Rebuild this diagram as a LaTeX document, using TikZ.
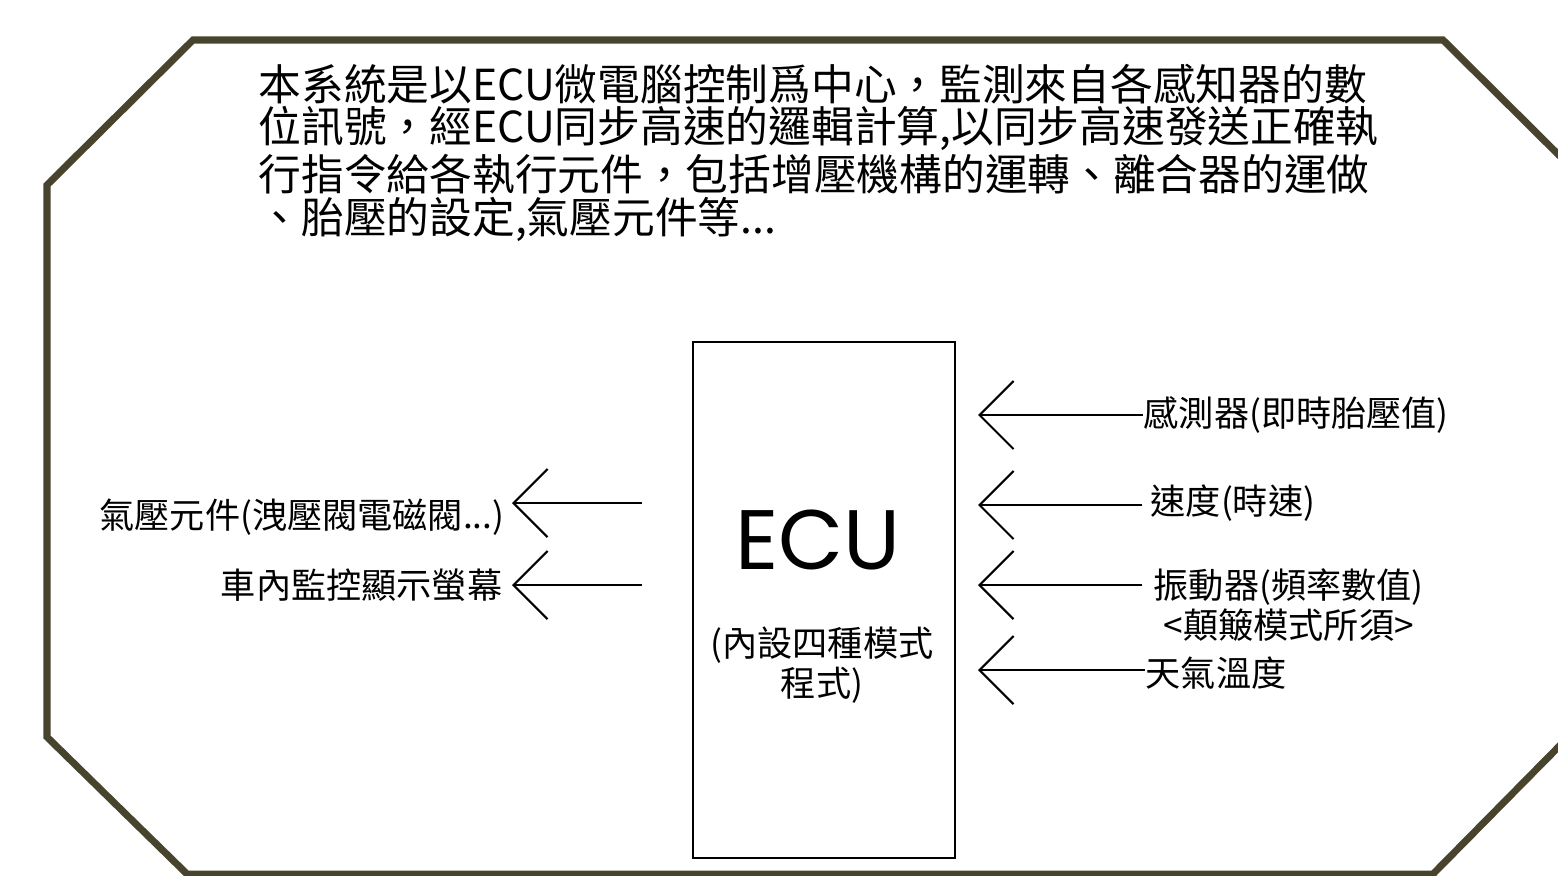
\documentclass[tikz,border=0pt]{standalone}
\usepackage{fontspec}
\setmainfont{Noto Sans CJK TC}
\newfontfamily\ecufont{Poppins}
\usetikzlibrary{arrows.meta}
\definecolor{framecol}{HTML}{48432D}
\tikzset{
  lbl/.style={font=\fontsize{10}{10}\selectfont, inner sep=0pt},
  sig/.style={line width=0.6pt, -{Straight Barb[length=3.4mm,width=6.8mm]}},
}
\begin{document}
\begin{tikzpicture}[x=0.01cm, y=-0.01cm]
  \useasboundingbox (0,0) rectangle (1558,875);
  \clip (0,0) rectangle (1558,875);
  % frame
  \draw[framecol, line width=2pt, line join=miter]
    (193,40) -- (1443,40) -- (1589,185) -- (1589,716) -- (1433,874)
    -- (187,874) -- (47,737) -- (47,185) -- cycle;
  \node[anchor=north west, align=left, inner sep=0pt,
        font=\fontsize{12.15}{12.2}\selectfont] (intro) at (258,63)
    {本系統是以ECU微電腦控制爲中心，監測來自各感知器的數\\
     位訊號，經ECU同步高速的邏輯計算,以同步高速發送正確執\\
     行指令給各執行元件，包括增壓機構的運轉、離合器的運做\\
     、胎壓的設定,氣壓元件等...};
  % ECU box
  \node[draw, line width=0.6pt, minimum width=2.62cm, minimum height=5.15cm] (ecu) at (824,600) {};
  \node[font=\ecufont\fontsize{24}{24}\selectfont, inner sep=0pt] (ecuname) at (818,540) {ECU};
  \node[lbl, align=center] (modes) at (822,665) {(內設四種模式\\程式)};
  % inputs
  \coordinate (in1) at (978,415);
  \coordinate (in2) at (978,505);
  \coordinate (in3) at (978,585);
  \coordinate (in4) at (978,670);
  \node[lbl, anchor=west] (sensor) at (1143,415) {感測器(即時胎壓值)};
  \node[lbl, anchor=west] (speed) at (1150,503) {速度(時速)};
  \node[lbl, anchor=west, align=center] (vib) at (1153,605) {振動器(頻率數值)\\<顛簸模式所須>};
  \node[lbl, anchor=west] (temp) at (1145,673) {天氣溫度};
  \draw[sig] (sensor.west |- in1) -- (in1);
  \draw[sig] ([xshift=-0.08cm]speed.west |- in2) -- (in2);
  \draw[sig] ([xshift=-0.11cm]vib.west |- in3) -- (in3);
  \draw[sig] (temp.west |- in4) -- (in4);
  % outputs
  \coordinate (out1) at (642,503);
  \coordinate (out2) at (642,585);
  \node[lbl, anchor=east] (air) at (505,517) {氣壓元件(洩壓閥電磁閥...)};
  \node[lbl, anchor=east] (screen) at (503,585) {車內監控顯示螢幕};
  \draw[sig] (out1) -- ([xshift=0.07cm]air.east |- out1);
  \draw[sig] (out2) -- ([xshift=0.09cm]screen.east |- out2);
\end{tikzpicture}
\end{document}
